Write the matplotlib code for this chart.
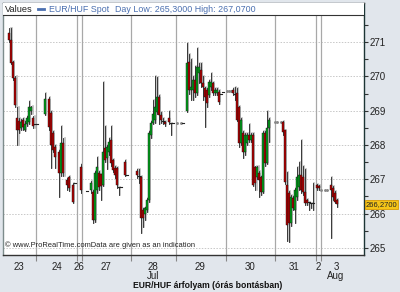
import matplotlib.pyplot as plt
from matplotlib.patches import Rectangle
import matplotlib.transforms as mtransforms

plt.rcParams['font.family'] = ['Liberation Sans', 'DejaVu Sans']

# hourly candles: slot index, open, high, low, close
t = [3, 4, 5, 6, 7, 8, 9, 10, 11, 12, 13, 14, 15, 16, 17,
     21, 23, 24, 25, 26, 28, 29, 30, 32, 33, 35, 36,
     39, 42, 44, 45, 46, 47, 48, 49, 50, 51, 52, 53, 54, 55, 56, 57, 58, 59, 61, 62,
     67, 68, 69, 70, 71, 72, 73, 74, 75, 76, 77, 78, 79, 80, 81, 83, 84, 85,
     90, 92, 93, 94, 95, 96, 97, 98, 99, 100, 101, 102, 103, 104, 105, 106, 107, 108, 109, 110,
     115, 116, 117, 118, 119, 120, 121, 122, 123, 124, 125, 126, 127, 128, 129, 130, 131, 132, 133,
     140, 141, 142, 143, 144, 145, 146, 147, 148, 149, 150, 151, 152, 153, 154, 155, 157, 158,
     164, 165, 166, 167]
o = [271.26, 271.06, 270.42, 269.95, 268.78, 268.70, 268.50, 268.72, 268.45, 268.60, 268.67, 269.00, 268.78, 268.60, 268.60,
     268.90, 269.34, 268.93, 268.35, 267.94, 267.79, 267.18, 268.05, 266.97, 267.06, 266.83, 266.90,
     267.35, 266.65, 266.68, 266.62, 265.81, 266.68, 267.18, 267.15, 266.83, 267.91, 267.62, 267.79, 268.14, 267.56, 267.32, 267.32, 266.77, 266.77, 267.50, 267.12,
     267.23, 267.10, 267.06, 266.10, 266.00, 266.10, 266.39, 268.29, 268.64, 268.72, 268.96, 269.40, 268.87, 268.70, 268.67, 268.78, 268.64, 268.64,
     268.64, 268.99, 270.42, 269.60, 269.60, 269.89, 269.51, 270.10, 270.18, 269.80, 269.66, 269.60, 269.45, 269.70, 269.80, 269.51, 269.51, 269.54, 269.50, 269.54,
     269.60, 269.50, 269.51, 269.10, 268.05, 268.35, 267.79, 268.05, 268.29, 268.14, 268.29, 267.35, 267.06, 267.18, 267.06, 266.62, 268.35, 267.47, 268.49,
     268.67, 268.43, 266.83, 266.60, 265.72, 266.45, 266.10, 266.48, 266.77, 267.12, 267.06, 266.62, 266.39, 266.33, 266.30, 266.30, 266.83, 266.80,
     266.83, 266.74, 266.60, 266.39]
h = [271.41, 271.41, 270.45, 270.00, 269.10, 268.80, 268.75, 268.80, 268.70, 268.85, 269.28, 269.15, 268.85, 268.60, 268.60,
     269.51, 269.40, 269.00, 268.40, 268.00, 267.85, 268.55, 268.20, 267.05, 267.10, 266.90, 266.90,
     267.45, 266.65, 266.95, 266.70, 267.25, 267.65, 267.25, 267.15, 269.83, 268.55, 268.00, 268.20, 268.55, 267.60, 267.40, 267.35, 266.77, 266.77, 267.55, 267.12,
     267.30, 267.30, 267.10, 266.15, 266.20, 266.45, 268.40, 268.70, 269.30, 270.00, 269.97, 269.45, 268.95, 268.80, 268.70, 269.00, 268.64, 268.64,
     268.64, 270.97, 270.65, 270.50, 270.00, 270.30, 270.82, 270.40, 270.38, 270.00, 269.70, 269.65, 269.90, 270.10, 269.85, 269.65, 269.65, 269.60, 269.50, 269.54,
     269.65, 269.70, 269.65, 269.15, 268.80, 268.40, 268.35, 268.35, 268.60, 268.35, 268.35, 267.40, 267.40, 267.25, 267.10, 268.40, 268.40, 269.00, 268.78,
     268.70, 268.45, 267.20, 266.65, 266.55, 266.50, 266.75, 267.35, 267.50, 268.14, 267.40, 267.30, 266.42, 266.33, 266.30, 266.90, 266.85, 266.82,
     267.07, 266.80, 266.65, 266.42]
l = [271.00, 270.35, 269.90, 269.10, 268.00, 268.35, 268.45, 268.45, 268.40, 268.55, 268.60, 268.90, 268.50, 268.60, 268.60,
     268.88, 268.45, 267.33, 267.80, 267.33, 266.48, 267.10, 267.10, 266.70, 266.65, 266.30, 266.90,
     266.60, 266.65, 266.60, 265.72, 265.75, 266.60, 266.70, 266.39, 266.80, 267.50, 267.30, 267.70, 267.40, 267.20, 267.05, 266.75, 266.55, 266.77, 267.10, 267.12,
     267.05, 266.90, 265.43, 265.60, 265.80, 266.05, 266.35, 268.20, 268.60, 268.65, 268.90, 268.60, 268.65, 268.60, 268.55, 268.60, 268.30, 268.64,
     268.64, 268.95, 269.50, 269.30, 269.30, 269.40, 269.45, 269.80, 269.70, 269.30, 268.52, 269.10, 269.40, 269.60, 269.45, 269.45, 269.45, 269.20, 269.50, 269.54,
     269.45, 269.30, 268.70, 267.95, 268.00, 267.62, 267.70, 268.00, 268.10, 268.10, 266.80, 266.68, 267.00, 266.48, 266.55, 266.60, 267.40, 267.45, 268.10,
     268.30, 266.85, 265.20, 265.17, 265.65, 266.10, 265.72, 266.40, 266.70, 266.60, 266.55, 266.25, 266.25, 266.10, 266.15, 266.10, 266.70, 266.70,
     265.30, 266.40, 266.30, 266.20]
c = [271.06, 270.39, 269.95, 269.16, 268.43, 268.45, 268.67, 268.52, 268.60, 268.78, 269.10, 269.10, 268.55, 268.60, 268.60,
     269.34, 268.52, 268.00, 267.85, 267.65, 267.18, 268.05, 267.18, 266.83, 266.74, 266.33, 266.90,
     266.68, 266.65, 266.89, 265.81, 267.18, 267.35, 266.77, 266.80, 267.79, 267.56, 267.94, 268.08, 267.47, 267.27, 267.12, 266.83, 266.77, 266.77, 267.12, 267.12,
     267.12, 267.10, 265.87, 265.87, 266.15, 266.39, 268.35, 268.64, 268.90, 269.10, 269.40, 268.87, 268.72, 268.70, 268.61, 268.67, 268.64, 268.64,
     268.64, 270.39, 269.60, 269.70, 269.89, 269.51, 270.27, 270.27, 269.80, 269.70, 269.40, 269.22, 269.83, 269.83, 269.51, 269.60, 269.60, 269.25, 269.50, 269.54,
     269.51, 269.50, 268.72, 268.05, 268.72, 267.79, 268.29, 268.29, 268.14, 268.29, 266.83, 266.89, 267.35, 266.97, 266.62, 268.35, 267.47, 268.49, 268.72,
     268.37, 266.92, 265.66, 265.72, 266.48, 266.15, 266.68, 267.06, 267.12, 266.68, 266.62, 266.30, 266.30, 266.33, 266.30, 266.30, 266.74, 266.74,
     266.68, 266.48, 266.33, 266.27]

# gap fill dots
dot_t = [87, 89, 112, 113, 114, 136, 137, 139, 159, 161, 162]
dot_v = [268.64, 268.64, 269.56, 269.58, 269.58, 268.67, 268.67, 268.67, 266.68, 266.68, 266.68]

day_starts = [16.5, 37.2, 39.3, 63.9, 86.4, 111.5, 136, 156.5, 158.9]
day_label_pos = [8, 27, 38.2, 51.5, 75, 98.5, 123.5, 145.5, 157.7, 166.5]
day_labels = ['23', '24', '26', '27', '28', '29', '30', '31', '2', '3']
month_labels = {75: 'Jul', 166.5: 'Aug'}
y_ticks = [265, 266, 267, 268, 269, 270, 271]
last_price = 266.27

fig = plt.figure(figsize=(4.0, 2.92), dpi=100)
fig.patch.set_facecolor('#e1e6ec')
ax = fig.add_axes([3 / 400, 37 / 292, 361 / 400, 252 / 292])
ax.set_facecolor('white')
ax.set_xlim(0, 180.5)
ax.set_ylim(264.79, 272.14)

for yv in y_ticks:
    ax.axhline(yv, color='#c8c8c8', lw=0.7, ls=(0, (1.5, 1.5)), zorder=0)
for xb in day_starts:
    ax.axvline(xb, color='#a8a8a8', lw=0.9, zorder=0)

for ti, oi, hi, li, ci in zip(t, o, h, l, c):
    ax.plot([ti + 0.75, ti + 0.75], [li, hi], color='#b4b4b4', lw=1.1, zorder=1)
    ax.plot([ti, ti], [li, hi], color='#222222', lw=0.6, zorder=2)
    if abs(ci - oi) < 0.02:
        ax.plot([ti - 0.6, ti + 0.6], [oi, oi], color='#222222', lw=0.8, zorder=3)
        continue
    col = '#00a41a' if ci > oi else '#b40000'
    ax.add_patch(Rectangle((ti - 0.6, min(oi, ci)), 1.2, abs(ci - oi),
                           facecolor=col, edgecolor='#111111', lw=0.3, zorder=3))

ax.scatter(dot_t, dot_v, s=1.2, color='#888888', zorder=2)

# right axis
ax.yaxis.tick_right()
ax.set_yticks(y_ticks)
ax.set_yticklabels([str(v) for v in y_ticks], fontsize=7, color='#222222')
ax.set_yticks([v + 0.5 for v in y_ticks[:-1]] + [271.5], minor=True)
ax.tick_params(axis='y', which='both', direction='out', length=3, width=0.8,
               color='#333333', pad=1)

ax.set_xticks(day_starts)
ax.set_xticklabels([])
ax.set_xticks(day_label_pos, minor=True)
ax.set_xticklabels(day_labels, minor=True, fontsize=7, color='#222222')
ax.tick_params(axis='x', which='major', direction='out', length=4, color='#888888')
ax.tick_params(axis='x', which='minor', length=0, pad=5)

for side, col in [('left', '#7d8c8c'), ('right', '#1d3535'), ('top', '#555555'), ('bottom', '#333333')]:
    ax.spines[side].set_color(col)
    ax.spines[side].set_linewidth(1.0)

trans = mtransforms.blended_transform_factory(ax.transData, fig.transFigure)
for xp, txt in month_labels.items():
    fig.text(xp, 1 - 276 / 292, txt, transform=trans, fontsize=7, color='#222222',
             ha='center', va='center')

fig.text(208 / 400, 1 - 285 / 292, 'EUR/HUF árfolyam (órás bontásban)', fontsize=6.2,
         fontweight='bold', ha='center', va='center', color='#111111')

# header bar
ax.add_patch(Rectangle((0, 0.952), 1, 0.048, transform=ax.transAxes, facecolor='white',
                       edgecolor='none', zorder=4))
ax.plot([0, 1], [0.952, 0.952], transform=ax.transAxes, color='#333333', lw=0.8, zorder=5)
ax.text(0.005, 0.976, 'Values', transform=ax.transAxes, fontsize=6.6, va='center',
        color='#222222', zorder=6)
ax.plot([0.097, 0.113], [0.976, 0.976], transform=ax.transAxes, color='#4a6fb0', lw=2, zorder=6)
ax.text(0.127, 0.976, 'EUR/HUF Spot', transform=ax.transAxes, fontsize=6.4, va='center',
        color='#4a6fb0', zorder=6)
ax.text(0.31, 0.976, 'Day Low: 265,3000 High: 267,0700', transform=ax.transAxes, fontsize=6.4,
        va='center', color='#4a6fb0', zorder=6)

ax.text(0.006, 0.025, '© www.ProRealTime.comData are given as an indication', transform=ax.transAxes,
        fontsize=5.4, va='bottom', color='#222222', zorder=6)

# last price marker
ax.annotate('266,2700', xy=(1.0, last_price), xycoords=('axes fraction', 'data'),
            xytext=(1.0, 0), textcoords='offset points', fontsize=5.5, va='center', ha='left',
            color='#222222', annotation_clip=False,
            bbox=dict(boxstyle='square,pad=0.1', facecolor='#f5c518', edgecolor='#d89a00', lw=0.6))

fig.savefig('out.png', dpi=100, facecolor=fig.get_facecolor())
